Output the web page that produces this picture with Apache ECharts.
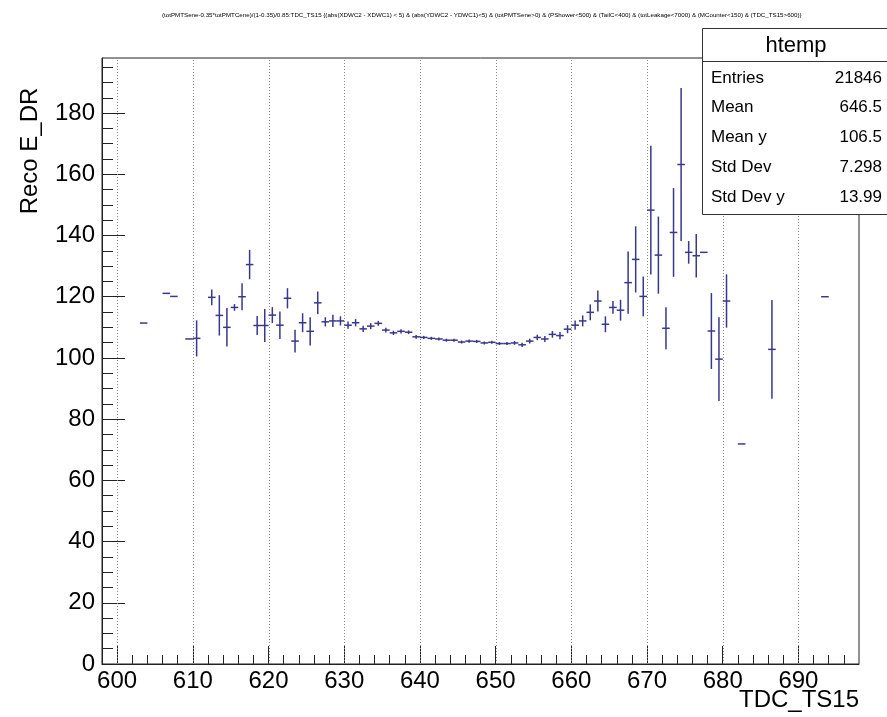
<!DOCTYPE html>
<html><head><meta charset="utf-8">
<script src="https://cdn.jsdelivr.net/npm/echarts@6/dist/echarts.min.js"></script>
<style>html,body{margin:0;padding:0;background:#fff}#c{width:887px;height:717px}</style>
</head><body><div id="c"></div>
<script>
// ---- data (bin lower edges, bin contents, errors) ----
const tdcBins = [603,606,607,609,610,612,613,614,615,616,617,618,619,620,621,622,623,624,625,626,627,628,629,
  630,631,632,633,634,635,636,637,638,639,640,641,642,643,644,645,646,647,648,649,650,651,652,653,654,655,656,657,658,659,
  660,661,662,663,664,665,666,667,668,669,670,671,672,673,674,675,676,677,678,679,680,682,686,693];
const recoE = [111.4,121.1,120.1,106.2,106.4,119.8,113.9,110.0,116.5,120.0,130.5,110.6,110.6,114.0,110.7,119.5,105.5,111.5,108.7,118.0,111.8,112.1,112.1,
  110.7,111.5,109.5,110.4,111.3,109.1,108.2,108.7,108.4,106.9,106.7,106.4,106.2,105.8,105.8,105.2,105.5,105.4,104.9,105.1,104.7,104.7,104.9,104.3,105.5,106.7,106.2,107.7,107.3,109.4,
  110.7,112.1,114.9,118.6,111.0,116.5,115.6,124.6,132.2,120.1,148.3,133.6,109.7,141.0,163.2,134.5,133.4,134.5,108.8,99.6,118.6,71.9,102.8,120.0];
const recoErr = [0,0,0,0,5.9,2.6,6.6,6.3,1.1,4.4,4.8,3.1,5.4,2.6,4.5,3.3,3.7,3.1,4.6,3.7,1.5,2.0,1.5,
  1.2,1.2,1.0,1.0,0.8,0.8,0.7,0.7,0.6,0.6,0.5,0.5,0.5,0.5,0.5,0.5,0.5,0.5,0.5,0.5,0.5,0.5,0.6,0.7,0.8,0.9,1.0,1.1,1.2,1.3,
  1.5,1.8,2.6,3.4,2.6,2.1,3.4,10.2,10.8,6.5,21,12.6,6.9,14.5,25,3.7,7.1,0,12.4,13.7,8.7,0,16.1,0];

const xMajorTicks = [600,610,620,630,640,650,660,670,680,690];
const xMinorTicks = [602,604,606,608,612,614,616,618,622,624,626,628,632,634,636,638,642,644,646,648,
  652,654,656,658,662,664,666,668,672,674,676,678,682,684,686,688,692,694,696];
const yMajorTicks = [0,20,40,60,80,100,120,140,160,180];
const yMinorTicks = [5,10,15,25,30,35,45,50,55,65,70,75,85,90,95,105,110,115,125,130,135,145,150,155,165,170,175,185,190,195];

const chartTitle = '(totPMTSene-0.35*totPMTCene)/(1-0.35)/0.85:TDC_TS15 {(abs(XDWC2 - XDWC1) < 5) & (abs(YDWC2 - YDWC1)<5) & (totPMTSene>0) & (PShower<500) & (TailC<400) & (totLeakage<7000) & (MCounter<150) & (TDC_TS15>600)}';
const xTitle = 'TDC_TS15';
const yTitle = 'Reco E_DR';
const statsTitle = 'htemp';
const statsNames = ['Entries','Mean','Mean y','Std Dev','Std Dev y'];
const statsValues = ['21846','646.5','106.5','7.298','13.99'];

// ---- chart ----
const FONT = '"Liberation Sans", Arial, Helvetica, sans-serif';
const MARK = '#38388c';
const X_MIN = 598, X_MAX = 698, Y_MIN = 0, Y_MAX = 198;
const chart = echarts.init(document.getElementById('c'), null, {renderer: 'canvas'});

const points = tdcBins.map((b, i) => [b + 0.5, recoE[i], recoErr[i]]);

const statsGraphics = [];
const BX = 702, BY = 28, BW = 190, BH = 186;
statsGraphics.push({type: 'rect', shape: {x: BX + 0.5, y: BY + 0.5, width: BW, height: BH},
  style: {fill: '#fff', stroke: '#333', lineWidth: 1}, z: 100});
statsGraphics.push({type: 'line', shape: {x1: BX, y1: 61.5, x2: 887, y2: 61.5},
  style: {stroke: '#333', lineWidth: 1}, z: 101});
statsGraphics.push({type: 'text', x: 796, y: 46, z: 101,
  style: {text: statsTitle, font: '22px ' + FONT, fill: '#000', align: 'center', verticalAlign: 'middle'}});
statsNames.forEach((n, i) => {
  const y = 78 + i * 29.8;
  statsGraphics.push({type: 'text', x: 711, y: y, z: 101,
    style: {text: n, font: '17px ' + FONT, fill: '#000', align: 'left', verticalAlign: 'middle'}});
  statsGraphics.push({type: 'text', x: 882, y: y, z: 101,
    style: {text: statsValues[i], font: '17px ' + FONT, fill: '#000', align: 'right', verticalAlign: 'middle'}});
});

const option = {
  animation: false,
  backgroundColor: '#fff',
  title: {
    text: chartTitle, left: 157, top: 7,
    textStyle: {fontFamily: FONT, fontSize: 6.2, fontWeight: 'normal', color: '#000'}
  },
  grid: {left: 102, right: 28, top: 58, bottom: 53, show: true, borderColor: '#222', borderWidth: 1, backgroundColor: 'transparent'},
  xAxis: [{
    type: 'value', min: X_MIN, max: X_MAX, position: 'bottom',
    axisLine: {show: true, lineStyle: {color: '#222', width: 1}},
    axisTick: {show: true, inside: true, length: 18, customValues: xMajorTicks, lineStyle: {color: '#222'}},
    axisLabel: {show: true, customValues: xMajorTicks, fontFamily: FONT, fontSize: 24, color: '#000', margin: 5},
    splitLine: {show: false}
  }, {
    type: 'value', min: X_MIN, max: X_MAX, position: 'bottom', offset: 0,
    axisLine: {show: false},
    axisTick: {show: true, inside: true, length: 9, customValues: xMinorTicks, lineStyle: {color: '#222'}},
    axisLabel: {show: false},
    splitLine: {show: false}
  }],
  yAxis: [{
    type: 'value', min: Y_MIN, max: Y_MAX, position: 'left',
    axisLine: {show: true, lineStyle: {color: '#222', width: 1}},
    axisTick: {show: true, inside: true, length: 23, customValues: yMajorTicks, lineStyle: {color: '#222'}},
    axisLabel: {show: true, customValues: yMajorTicks, fontFamily: FONT, fontSize: 24, color: '#000', margin: 7},
    splitLine: {show: false}
  }, {
    type: 'value', min: Y_MIN, max: Y_MAX, position: 'left', offset: 0,
    axisLine: {show: false},
    axisTick: {show: true, inside: true, length: 11, customValues: yMinorTicks, lineStyle: {color: '#222'}},
    axisLabel: {show: false},
    splitLine: {show: false}
  }],
  graphic: [
    {type: 'text', x: 859, y: 700, style: {text: xTitle, font: '24px ' + FONT, fill: '#000', align: 'right', verticalAlign: 'middle'}},
    {type: 'text', x: 30, y: 151, rotation: Math.PI / 2, style: {text: yTitle, font: '24px ' + FONT, fill: '#000', align: 'center', verticalAlign: 'middle'}}
  ].concat(statsGraphics),
  series: [{
    type: 'custom', xAxisIndex: 0, yAxisIndex: 0, silent: true, z: 1,
    data: xMajorTicks.map(v => [v]),
    renderItem: function (params, api) {
      const x = api.value(0);
      const p1 = api.coord([x, Y_MIN]), p2 = api.coord([x, Y_MAX]);
      return {type: 'line', shape: {x1: Math.round(p1[0]) + 0.5, y1: p1[1], x2: Math.round(p2[0]) + 0.5, y2: p2[1]},
        style: {stroke: '#8a8a8a', lineWidth: 1, lineDash: [1, 2]}};
    }
  }, {
    type: 'custom', xAxisIndex: 0, yAxisIndex: 0, silent: true, z: 5, clip: true,
    data: points,
    encode: {x: 0, y: 1},
    renderItem: function (params, api) {
      const x = api.value(0), y = api.value(1), e = api.value(2);
      const l = api.coord([x - 0.5, y]), r = api.coord([x + 0.5, y]);
      const children = [{type: 'line', shape: {x1: l[0], y1: l[1], x2: r[0], y2: r[1]}, style: {stroke: MARK, lineWidth: 1.5}}];
      if (e > 0) {
        const t = api.coord([x, y + e]), b = api.coord([x, y - e]);
        children.push({type: 'line', shape: {x1: t[0], y1: t[1], x2: b[0], y2: b[1]}, style: {stroke: MARK, lineWidth: 1.5}});
      }
      return {type: 'group', children: children};
    }
  }]
};
chart.setOption(option);
</script>
</body></html>
